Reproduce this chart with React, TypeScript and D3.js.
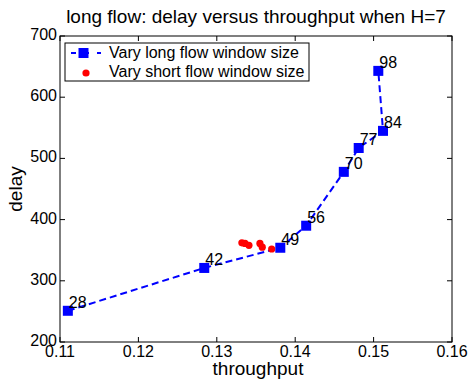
import { useEffect, useRef } from 'react'
import * as d3 from 'd3'

// long flow window sizes and the measured (throughput, delay) for each
const windowSizes = [28, 42, 49, 56, 70, 77, 84, 98]
const longThroughput = [0.111, 0.1284, 0.1381, 0.1414, 0.1462, 0.1481, 0.1512, 0.1506]
const longDelay = [251, 321, 354, 390, 478, 517, 545, 643]

// short flow window sweep
const shortThroughput = [0.1332, 0.1336, 0.1341, 0.1355, 0.1358, 0.137, 0.1381]
const shortDelay = [362, 361, 358, 361, 355, 352, 353]

const xTicks = [0.11, 0.12, 0.13, 0.14, 0.15, 0.16]
const yTicks = [200, 300, 400, 500, 600, 700]

const legendLabels = ['Vary long flow window size', 'Vary short flow window size']

const FONT = '"Liberation Sans", Arial, Helvetica, sans-serif'

export default function App() {
  const svgRef = useRef<SVGSVGElement>(null)

  useEffect(() => {
    document.body.style.margin = '0'
    const W = 469
    const H = 383
    const margin = { top: 36, right: 17, bottom: 41, left: 60 }
    const innerW = W - margin.left - margin.right
    const innerH = H - margin.top - margin.bottom

    const x = d3.scaleLinear().domain([0.11, 0.16]).range([0, innerW])
    const y = d3.scaleLinear().domain([200, 700]).range([innerH, 0])

    const svg = d3.select(svgRef.current)
    svg.selectAll('*').remove()
    svg.attr('width', W).attr('height', H).style('background', '#fff')

    const g = svg.append('g').attr('transform', `translate(${margin.left},${margin.top})`)

    // box
    g.append('rect')
      .attr('width', innerW).attr('height', innerH)
      .attr('fill', 'none').attr('stroke', '#000').attr('stroke-width', 1)

    const tickLen = 5
    // inward ticks on all four sides
    xTicks.forEach((t) => {
      g.append('line').attr('x1', x(t)).attr('x2', x(t)).attr('y1', innerH).attr('y2', innerH - tickLen).attr('stroke', '#000')
      g.append('line').attr('x1', x(t)).attr('x2', x(t)).attr('y1', 0).attr('y2', tickLen).attr('stroke', '#000')
    })
    yTicks.forEach((t) => {
      g.append('line').attr('x1', 0).attr('x2', tickLen).attr('y1', y(t)).attr('y2', y(t)).attr('stroke', '#000')
      g.append('line').attr('x1', innerW).attr('x2', innerW - tickLen).attr('y1', y(t)).attr('y2', y(t)).attr('stroke', '#000')
    })

    g.selectAll('.xlab')
      .data(xTicks)
      .join('text')
      .attr('x', (d) => x(d)).attr('y', innerH + 15)
      .attr('text-anchor', 'middle')
      .attr('font-family', FONT).attr('font-size', 16)
      .text((d) => d.toFixed(2))

    g.selectAll('.ylab')
      .data(yTicks)
      .join('text')
      .attr('x', -3).attr('y', (d) => y(d))
      .attr('dy', '0.25em')
      .attr('text-anchor', 'end')
      .attr('font-family', FONT).attr('font-size', 16)
      .text((d) => d)

    // axis titles
    svg.append('text')
      .attr('x', margin.left + innerW / 2 + 2).attr('y', 375)
      .attr('text-anchor', 'middle')
      .attr('font-family', FONT).attr('font-size', 19)
      .text('throughput')

    svg.append('text')
      .attr('transform', `translate(22,${margin.top + innerH / 2}) rotate(-90)`)
      .attr('text-anchor', 'middle')
      .attr('font-family', FONT).attr('font-size', 19)
      .text('delay')

    svg.append('text')
      .attr('x', margin.left + innerW / 2).attr('y', 23)
      .attr('text-anchor', 'middle')
      .attr('font-family', FONT).attr('font-size', 19)
      .text('long flow: delay versus throughput when H=7')

    const longData = windowSizes.map((w, i) => ({ w, tp: longThroughput[i], d: longDelay[i] }))
    const shortData = shortThroughput.map((tp, i) => ({ tp, d: shortDelay[i] }))

    const line = d3.line<{ tp: number; d: number }>()
      .x((d) => x(d.tp))
      .y((d) => y(d.d))

    g.append('path')
      .datum(longData)
      .attr('fill', 'none')
      .attr('stroke', '#0000ff')
      .attr('stroke-width', 2)
      .attr('stroke-dasharray', '7,4')
      .attr('d', line)

    g.selectAll('.short')
      .data(shortData)
      .join('circle')
      .attr('cx', (d) => x(d.tp)).attr('cy', (d) => y(d.d))
      .attr('r', 3.6)
      .attr('fill', '#ff0000')

    const sq = 10
    g.selectAll('.long')
      .data(longData)
      .join('rect')
      .attr('x', (d) => x(d.tp) - sq / 2).attr('y', (d) => y(d.d) - sq / 2)
      .attr('width', sq).attr('height', sq)
      .attr('fill', '#0000ff')

    g.selectAll('.wlab')
      .data(longData)
      .join('text')
      .attr('x', (d) => x(d.tp) + 1).attr('y', (d) => y(d.d) - 3)
      .attr('font-family', FONT).attr('font-size', 16)
      .text((d) => d.w)

    // legend
    const lg = svg.append('g').attr('transform', 'translate(65,43)')
    lg.append('rect')
      .attr('width', 244).attr('height', 38)
      .attr('fill', '#fff').attr('stroke', '#000').attr('stroke-width', 1)
    lg.append('line')
      .attr('x1', 6).attr('x2', 36).attr('y1', 10).attr('y2', 10)
      .attr('stroke', '#0000ff').attr('stroke-width', 2).attr('stroke-dasharray', '5,8')
      .attr('stroke-dashoffset', 0)
    lg.append('rect')
      .attr('x', 18 - sq / 2 + 0.5).attr('y', 10 - sq / 2)
      .attr('width', sq).attr('height', sq).attr('fill', '#0000ff')
    lg.append('circle').attr('cx', 21).attr('cy', 30).attr('r', 3.6).attr('fill', '#ff0000')
    lg.selectAll('.lt')
      .data(legendLabels)
      .join('text')
      .attr('x', 44).attr('y', (d, i) => 15 + i * 19)
      .attr('font-family', FONT).attr('font-size', 16)
      .text((d) => d)

    return () => {
      svg.selectAll('*').remove()
    }
  }, [])

  return (
    <div>
      <svg ref={svgRef} style={{ display: 'block' }} />
    </div>
  )
}
